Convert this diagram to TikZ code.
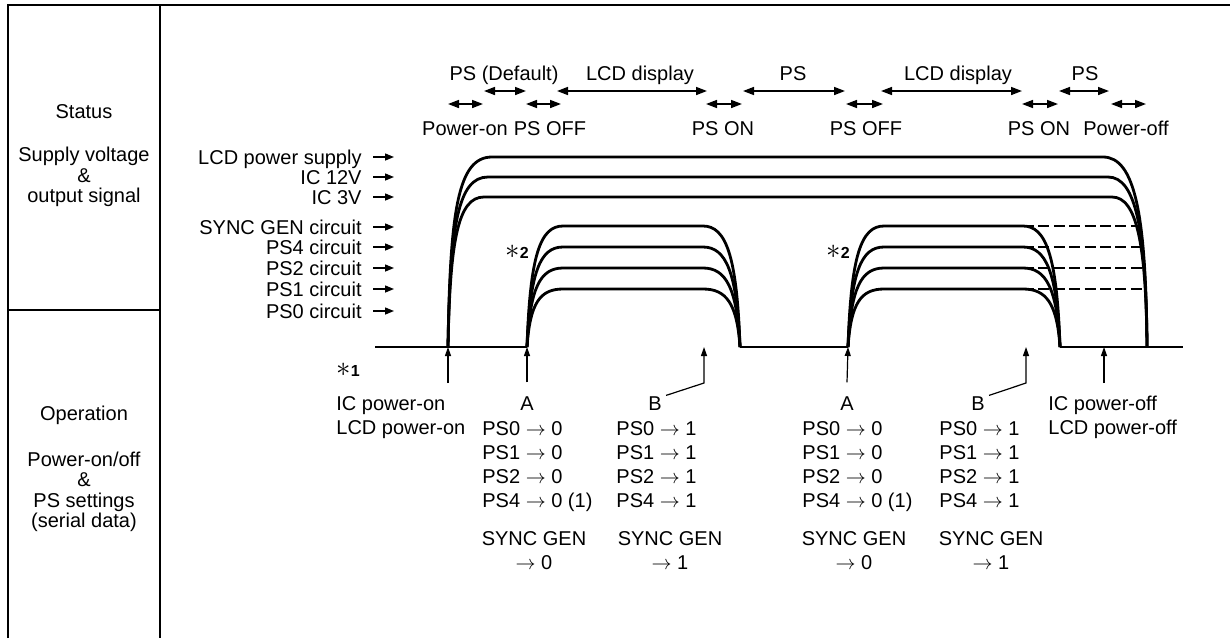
\documentclass[tikz,border=0pt]{standalone}
\usepackage{fontspec}
\setmainfont{Liberation Sans}
\usetikzlibrary{arrows.meta,positioning}

\begin{document}
\begin{tikzpicture}[x=0.5pt,y=-0.5pt,font=\fontsize{10}{12}\selectfont]
% Define styles
\tikzstyle{frame} = [line width=1.4pt]
\tikzstyle{wave} = [line width=1.4pt, line join=round]
\tikzstyle{hold} = [line width=1.3pt, dash pattern=on 5.5pt off 2.2pt]
\tikzstyle{txt} = [inner sep=0pt, text height=7.2pt, text depth=0pt]
\tikzstyle{block} = [inner sep=0pt, align=center, font=\fontsize{10}{10.2}\selectfont]
\tikzstyle{list} = [inner sep=0pt, align=left, anchor=north west]
\tikzstyle{note} = [inner sep=0pt, anchor=west]
\tikzstyle{span} = [line width=0.8pt, {Triangle[length=5.5pt,width=4pt]}-{Triangle[length=5.5pt,width=4pt]}]
\tikzstyle{sigarrow} = [line width=0.7pt, -{Triangle[length=4.5pt,width=3.5pt]}]
\tikzstyle{uparrow} = [line width=0.6pt, -{Triangle[length=4.5pt,width=3pt]}]

\useasboundingbox (0,0) rectangle (1230,638);

% Draw frame
\draw[frame] (8,638) -- (8,5) -- (1230,5);
\draw[frame] (160,5) -- (160,638);
\draw[frame] (8,310) -- (160,310);

% Row titles
\node (status) [txt] at (84,111) {Status};
\node (supply) [block] at (84,177) {Supply voltage\\\&\\output signal};
\node (operation) [txt] at (84,413) {Operation};
\node (settings) [block] at (84,492) {Power-on/off\\\&\\PS settings\\(serial data)};

% Status periods
\node (stDefault) [txt] at (504,73) {PS (Default)};
\node (stLcdA) [txt] at (640,73) {LCD display};
\node (stPsA) [txt] at (793,73) {PS};
\node (stLcdB) [txt] at (958,73) {LCD display};
\node (stPsB) [txt] at (1085,73) {PS};
\draw [span] (484,91) -- (526,91);
\draw [span] (557,91) -- (707,91);
\draw [span] (743,91) -- (845,91);
\draw [span] (881,91) -- (1022,91);
\draw [span] (1059,91) -- (1109,91);

\draw [span] (448,104) -- (483,104);
\draw [span] (526,104) -- (561,104);
\draw [span] (706,104) -- (742,104);
\draw [span] (846,104) -- (883,104);
\draw [span] (1022,104) -- (1058,104);
\draw [span] (1111,104) -- (1146,104);
\node (evPowerOn) [txt] at (465,128) {Power-on};
\node (evPsOffA) [txt] at (550,128) {PS OFF};
\node (evPsOnA) [txt] at (723,128) {PS ON};
\node (evPsOffB) [txt] at (866,128) {PS OFF};
\node (evPsOnB) [txt] at (1039,128) {PS ON};
\node (evPowerOff) [txt] at (1126,128) {Power-off};

% Signal names
\node (lcdSupply) [txt, anchor=east] at (362,157) {LCD power supply};
\node (ic12) [txt, anchor=east] at (362,177) {IC 12V};
\node (ic3) [txt, anchor=east] at (362,197) {IC 3V};
\node (syncGen) [txt, anchor=east] at (362,227) {SYNC GEN circuit};
\node (psFour) [txt, anchor=east] at (362,247) {PS4 circuit};
\node (psTwo) [txt, anchor=east] at (362,268) {PS2 circuit};
\node (psOne) [txt, anchor=east] at (362,289) {PS1 circuit};
\node (psZero) [txt, anchor=east] at (362,311) {PS0 circuit};
\draw [sigarrow] ([xshift=5.5pt]lcdSupply.east) -- ++(21,0);
\draw [sigarrow] ([xshift=5.5pt]ic12.east) -- ++(21,0);
\draw [sigarrow] ([xshift=5.5pt]ic3.east) -- ++(21,0);
\draw [sigarrow] ([xshift=5.5pt]syncGen.east) -- ++(21,0);
\draw [sigarrow] ([xshift=5.5pt]psFour.east) -- ++(21,0);
\draw [sigarrow] ([xshift=5.5pt]psTwo.east) -- ++(21,0);
\draw [sigarrow] ([xshift=5.5pt]psOne.east) -- ++(21,0);
\draw [sigarrow] ([xshift=5.5pt]psZero.east) -- ++(21,0);

% Supply voltages
\draw [wave] (448,347) .. controls (450,210) and (458,157) .. (492,157) -- (1103,157) .. controls (1135,157) and (1146,215) .. (1147,347);
\draw [wave] (448,347) .. controls (450,225) and (458,177) .. (488,177) -- (1108,177) .. controls (1136,177) and (1146,230) .. (1147,347);
\draw [wave] (448,347) .. controls (450,240) and (458,197) .. (484,197) -- (1112,197) .. controls (1137,197) and (1146,245) .. (1147,347);

% PS circuits, first pulse
\draw [wave] (527,347) .. controls (530,256) and (540,226) .. (563,226) -- (703,226) .. controls (726,226) and (737,256) .. (740,347);
\draw [wave] (527,347) .. controls (530,272) and (540,247) .. (563,247) -- (703,247) .. controls (726,247) and (737,272) .. (740,347);
\draw [wave] (527,347) .. controls (530,288) and (540,268) .. (563,268) -- (703,268) .. controls (726,268) and (737,288) .. (740,347);
\draw [wave] (527,347) .. controls (530,303) and (540,289) .. (563,289) -- (703,289) .. controls (726,289) and (737,303) .. (740,347);

% PS circuits, second pulse
\draw [wave] (848,347) .. controls (851,256) and (861,226) .. (884,226) -- (1023,226) .. controls (1046,226) and (1057,256) .. (1060,347);
\draw [wave] (848,347) .. controls (851,272) and (861,247) .. (884,247) -- (1023,247) .. controls (1046,247) and (1057,272) .. (1060,347);
\draw [wave] (848,347) .. controls (851,288) and (861,268) .. (884,268) -- (1023,268) .. controls (1046,268) and (1057,288) .. (1060,347);
\draw [wave] (848,347) .. controls (851,303) and (861,289) .. (884,289) -- (1023,289) .. controls (1046,289) and (1057,303) .. (1060,347);
\draw [hold] (1023,226) -- (1141,226);
\draw [hold] (1023,247) -- (1142,247);
\draw [hold] (1023,268) -- (1143,268);
\draw [hold] (1023,289) -- (1144,289);

% Ground level
\draw [wave] (375,347) -- (527,347);
\draw [wave] (740,347) -- (848,347);
\draw [wave] (1060,347) -- (1183,347);

% Notes
\node (noteOne) [note] at (336,370) {{\fontsize{14}{14}\selectfont$\ast$}\textbf{\fontsize{8}{8}\selectfont 1}};
\node (noteTwoA) [note] at (505,252) {{\fontsize{14}{14}\selectfont$\ast$}\textbf{\fontsize{8}{8}\selectfont 2}};
\node (noteTwoB) [note] at (826,252) {{\fontsize{14}{14}\selectfont$\ast$}\textbf{\fontsize{8}{8}\selectfont 2}};

% Operations
\node (powerOn) [list] at (336,396) {IC power-on\\LCD power-on};
\node (powerOff) [list] at (1048,396) {IC power-off\\LCD power-off};
\draw [uparrow] (448,383) -- (448,347);
\draw [uparrow] (1104,383) -- (1104,347);

\node (aOne) [txt] at (527,403) {A};
\node (aOneSet) [list] at (482,421) {PS0 $\rightarrow$ 0\\PS1 $\rightarrow$ 0\\PS2 $\rightarrow$ 0\\PS4 $\rightarrow$ 0 (1)};
\node (aOneSync) [inner sep=0pt, align=center, anchor=north] at (534,531) {SYNC GEN\\$\rightarrow$ 0};
\draw [uparrow] ([yshift=6.5pt]aOne.north) -- (527,347);

\node (bOne) [txt] at (655,403) {B};
\node (bOneSet) [list] at (616,421) {PS0 $\rightarrow$ 1\\PS1 $\rightarrow$ 1\\PS2 $\rightarrow$ 1\\PS4 $\rightarrow$ 1};
\node (bOneSync) [inner sep=0pt, align=center, anchor=north] at (670,531) {SYNC GEN\\$\rightarrow$ 1};
\draw [uparrow] ([xshift=2pt]bOne.north east) -- (704,383) -- (704,347);

\node (aTwo) [txt] at (847,403) {A};
\node (aTwoSet) [list] at (802,421) {PS0 $\rightarrow$ 0\\PS1 $\rightarrow$ 0\\PS2 $\rightarrow$ 0\\PS4 $\rightarrow$ 0 (1)};
\node (aTwoSync) [inner sep=0pt, align=center, anchor=north] at (854,531) {SYNC GEN\\$\rightarrow$ 0};
\draw [uparrow] ([yshift=6.5pt]aTwo.north) -- (848,347);

\node (bTwo) [txt] at (978,403) {B};
\node (bTwoSet) [list] at (939,421) {PS0 $\rightarrow$ 1\\PS1 $\rightarrow$ 1\\PS2 $\rightarrow$ 1\\PS4 $\rightarrow$ 1};
\node (bTwoSync) [inner sep=0pt, align=center, anchor=north] at (991,531) {SYNC GEN\\$\rightarrow$ 1};
\draw [uparrow] ([xshift=2pt]bTwo.north east) -- (1026,383) -- (1026,347);
\end{tikzpicture}
\end{document}
